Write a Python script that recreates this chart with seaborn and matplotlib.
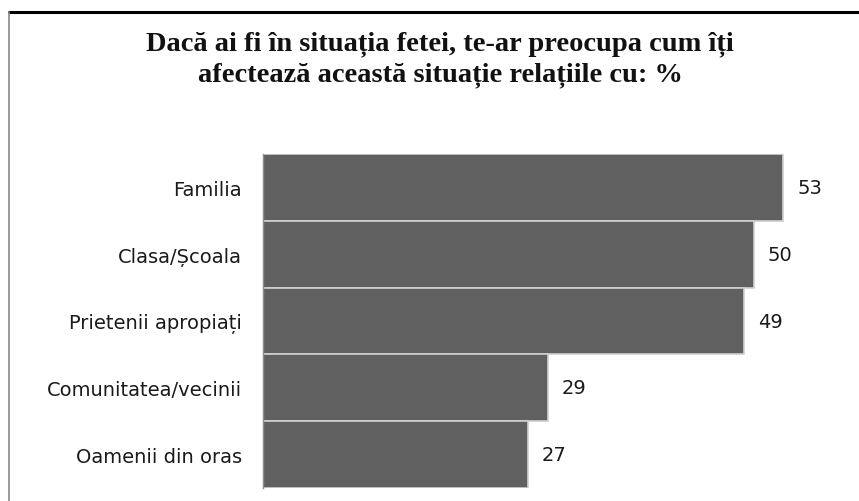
import numpy as np
import pandas as pd
import seaborn as sns
import matplotlib
matplotlib.use("Agg")
import matplotlib.pyplot as plt
from matplotlib.lines import Line2D

# data
categories = ["Familia", "Clasa/Școala", "Prietenii apropiați", "Comunitatea/vecinii", "Oamenii din oras"]
values = [53, 50, 49, 29, 27]
title = "Dacă ai fi în situația fetei, te-ar preocupa cum îți\nafectează această situație relațiile cu: %"

df = pd.DataFrame({"categorie": categories, "procent": values})

sns.set_style("white")
plt.rcParams["font.family"] = ["DejaVu Sans"]

W, H = 859, 502
fig = plt.figure(figsize=(W / 100, H / 100), dpi=100)
fig.patch.set_facecolor("white")

# axes placed in pixels: x from 263, y from 155 to 489
ax = fig.add_axes([263 / W, 1 - 489 / H, 588.7 / W, (489 - 155) / H])
sns.barplot(data=df, x="procent", y="categorie", color="#606060", width=1.0,
            saturation=1, edgecolor="#d0d0d0", linewidth=1.2, ax=ax)

ax.set_xlim(0, 60)
ax.set_ylim(4.5, -0.5)
ax.set_xlabel("")
ax.set_ylabel("")
ax.set_xticks([])
ax.tick_params(axis="y", length=0, pad=15, labelsize=14, labelcolor="#1a1a1a")
for s in ["top", "right", "bottom"]:
    ax.spines[s].set_visible(False)
ax.spines["left"].set_color("#8c8c8c")
ax.spines["left"].set_linewidth(1.0)

# value labels to the right of the bars
for i, v in enumerate(values):
    ax.annotate(str(v), xy=(v, i), xytext=(14, 0), textcoords="offset pixels",
                ha="left", va="center", fontsize=14, color="#1a1a1a")

fig.text(440 / W, 1 - 60 / H, title, ha="center", va="center", fontsize=20.5,
         fontweight="bold", family="Liberation Serif", color="#111111", linespacing=1.28)

# chart frame (cropped): black top line, gray left line
fig.add_artist(Line2D([9 / W, 1], [1 - 13 / H, 1 - 13 / H], color="black", lw=2.2))
fig.add_artist(Line2D([9 / W, 9 / W], [0, 1 - 13 / H], color="#888888", lw=1.2))

fig.savefig("out.png", dpi=100)
